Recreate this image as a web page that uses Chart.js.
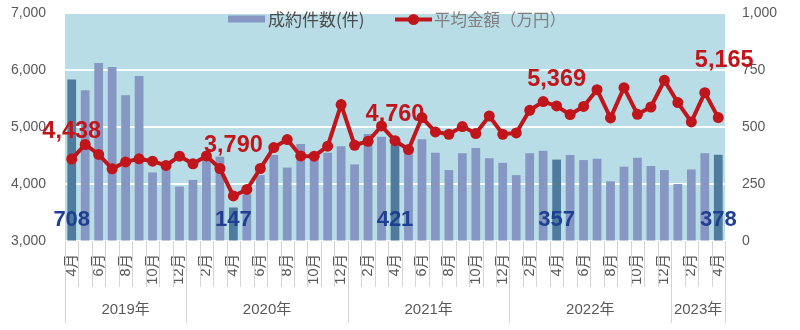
<!DOCTYPE html>
<html>
<head>
<meta charset="utf-8">
<script src="https://cdn.jsdelivr.net/npm/chart.js@4/dist/chart.umd.min.js"></script>
<style>
  html, body { margin: 0; padding: 0; background: #ffffff; }
  #wrap { width: 800px; height: 330px; position: relative; }
</style>
</head>
<body>
<div id="wrap"><canvas id="c"></canvas></div>
<script>
// ---- data ----
const catYear = [2019,2019,2019,2019,2019,2019,2019,2019,2019,
  2020,2020,2020,2020,2020,2020,2020,2020,2020,2020,2020,2020,
  2021,2021,2021,2021,2021,2021,2021,2021,2021,2021,2021,2021,
  2022,2022,2022,2022,2022,2022,2022,2022,2022,2022,2022,2022,
  2023,2023,2023,2023];
const catMonth = [4,5,6,7,8,9,10,11,12,
  1,2,3,4,5,6,7,8,9,10,11,12,
  1,2,3,4,5,6,7,8,9,10,11,12,
  1,2,3,4,5,6,7,8,9,10,11,12,
  1,2,3,4];
const contracts = [708,661,781,763,639,724,301,318,239,
  268,362,370,147,205,289,377,322,425,370,387,416,
  336,469,457,421,408,446,387,311,385,408,363,343,
  289,385,396,357,377,355,361,262,326,365,329,311,
  250,314,385,378];
const avgPrice = [4438,4693,4518,4266,4388,4441,4400,4325,4488,
  4355,4493,4272,3790,3904,4272,4640,4780,4493,4488,4663,5393,
  4680,4750,5018,4760,4605,5165,4913,4873,5008,4885,5193,4873,
  4896,5293,5446,5369,5218,5360,5655,5159,5690,5223,5351,5818,
  5428,5089,5603,5165];
const labelIdx = [0,12,24,36,48];
const seriesNames = ['成約件数(件)', '平均金額（万円）'];
const leftTicks = [3000,4000,5000,6000,7000];
const rightTicks = [0,250,500,750,1000];

// ---- styles ----
const FONT = "'Liberation Sans', 'Noto Sans CJK JP', sans-serif";
const JFONT = "'Noto Sans CJK JP', 'Liberation Sans', sans-serif";
const BAR = '#8797c3';
const BAR_HI = '#4f7c9c';
const RED = '#c0151b';
const BLUE = '#1f3f92';
const AXIS_TXT = '#595959';
const PLOT_BG = '#b8dde7';
const lineLabelOffset = [[0,28],[0,50],[0,26],[0,26],[6,57]];

const fmt = v => v.toLocaleString('en-US');
const catLabels = catMonth.map((m,i) => catYear[i] + '-' + m);

const decor = {
  id: 'decor',
  beforeDraw(chart) {
    const {ctx, chartArea: a} = chart;
    ctx.save();
    ctx.fillStyle = '#ffffff';
    ctx.fillRect(0, 0, chart.width, chart.height);
    ctx.fillStyle = PLOT_BG;
    ctx.fillRect(a.left, a.top, a.right - a.left, a.bottom - a.top);
    ctx.restore();
  },
  afterDatasetsDraw(chart) {
    const {ctx, chartArea: a} = chart;
    const xs = chart.scales.x, yl = chart.scales.yL;
    ctx.save();
    ctx.textAlign = 'center';
    ctx.textBaseline = 'middle';
    ctx.font = "bold 22px 'Liberation Sans', sans-serif";
    ctx.fillStyle = BLUE;
    labelIdx.forEach(i => {
      ctx.fillText(fmt(contracts[i]), xs.getPixelForValue(i), a.bottom - 21);
    });
    ctx.font = "bold 23.5px 'Liberation Sans', sans-serif";
    ctx.fillStyle = RED;
    labelIdx.forEach((i, k) => {
      const [dx, dy] = lineLabelOffset[k];
      ctx.fillText(fmt(avgPrice[i]), xs.getPixelForValue(i) + dx, yl.getPixelForValue(avgPrice[i]) - dy);
    });
    ctx.restore();
  },
  afterDraw(chart) {
    const {ctx, chartArea: a} = chart;
    const xs = chart.scales.x;
    const w = xs.getPixelForValue(1) - xs.getPixelForValue(0);
    ctx.save();
    ctx.strokeStyle = '#d4d4d4';
    ctx.lineWidth = 1;
    for (let k = 0; k <= catMonth.length; k++) {
      const x = Math.round((k < catMonth.length ? xs.getPixelForValue(k) : xs.getPixelForValue(k - 1) + w) - w / 2) + 0.5;
      const isYear = k === 0 || k === catMonth.length || catMonth[k] === 1;
      ctx.beginPath();
      ctx.moveTo(x, a.bottom);
      ctx.lineTo(x, a.bottom + (isYear ? 82 : 46));
      ctx.stroke();
    }
    ctx.font = "15px " + FONT;
    ctx.fillStyle = AXIS_TXT;
    ctx.textAlign = 'center';
    ctx.textBaseline = 'middle';
    let start = 0;
    for (let k = 1; k <= catYear.length; k++) {
      if (k === catYear.length || catYear[k] !== catYear[start]) {
        const x0 = xs.getPixelForValue(start) - w / 2;
        const x1 = xs.getPixelForValue(k - 1) + w / 2;
        ctx.fillText(catYear[start] + '年', (x0 + x1) / 2, a.bottom + 69);
        start = k;
      }
    }
    // legend
    ctx.fillStyle = BAR;
    ctx.fillRect(228, 15.5, 37, 7);
    ctx.textAlign = 'left';
    ctx.font = "17px " + JFONT;
    ctx.fillStyle = '#4d4d4d';
    ctx.fillText(seriesNames[0], 268, 19.5);
    ctx.strokeStyle = RED;
    ctx.lineWidth = 4;
    ctx.beginPath();
    ctx.moveTo(395, 19.5);
    ctx.lineTo(432, 19.5);
    ctx.stroke();
    ctx.fillStyle = RED;
    ctx.beginPath();
    ctx.arc(413.5, 19.5, 5.5, 0, Math.PI * 2);
    ctx.fill();
    ctx.font = "16.5px " + JFONT;
    ctx.fillStyle = '#7f7f7f';
    ctx.fillText(seriesNames[1], 434, 19.5);
    ctx.restore();
  }
};

Chart.defaults.font.family = FONT;

const zeroPad = s => { s.paddingTop = 0; s.paddingBottom = 0; };

new Chart(document.getElementById('c'), {
  data: {
    labels: catLabels,
    datasets: [
      {
        type: 'line',
        label: seriesNames[1],
        data: avgPrice,
        yAxisID: 'yL',
        borderColor: RED,
        backgroundColor: RED,
        borderWidth: 4,
        pointRadius: 5.5,
        pointBackgroundColor: RED,
        pointBorderWidth: 0,
        tension: 0,
        order: 1
      },
      {
        type: 'bar',
        label: seriesNames[0],
        data: contracts,
        yAxisID: 'yR',
        backgroundColor: catMonth.map(m => m === 4 ? BAR_HI : BAR),
        barPercentage: 0.65,
        categoryPercentage: 1.0,
        order: 2
      }
    ]
  },
  options: {
    responsive: true,
    maintainAspectRatio: false,
    animation: false,
    layout: { padding: { top: 13, left: 0, right: 0, bottom: 0 } },
    plugins: { legend: { display: false }, tooltip: { enabled: false } },
    scales: {
      x: {
        type: 'category',
        offset: true,
        grid: { display: false },
        border: { display: false },
        ticks: {
          autoSkip: false,
          minRotation: 90,
          maxRotation: 90,
          padding: 5,
          color: AXIS_TXT,
          font: { size: 14.5, family: FONT },
          callback: (v, i) => catMonth[i] % 2 === 0 ? catMonth[i] + '月' : ''
        },
        afterFit: s => { s.height = 89; zeroPad(s); }
      },
      yL: {
        type: 'linear',
        position: 'left',
        min: 3000,
        max: 7000,
        afterBuildTicks: s => { s.ticks = leftTicks.map(v => ({ value: v })); },
        grid: { color: '#ffffff', lineWidth: 2, drawTicks: false },
        border: { display: false },
        ticks: { padding: 19, color: AXIS_TXT, font: { size: 14 }, callback: v => fmt(v) },
        afterFit: s => { s.width = 65; zeroPad(s); }
      },
      yR: {
        type: 'linear',
        position: 'right',
        min: 0,
        max: 1000,
        afterBuildTicks: s => { s.ticks = rightTicks.map(v => ({ value: v })); },
        grid: { drawOnChartArea: false, drawTicks: false },
        border: { display: false },
        ticks: { padding: 17, color: AXIS_TXT, font: { size: 14 }, callback: v => fmt(v) },
        afterFit: s => { s.width = 75; zeroPad(s); }
      }
    }
  },
  plugins: [decor]
});
</script>
</body>
</html>
